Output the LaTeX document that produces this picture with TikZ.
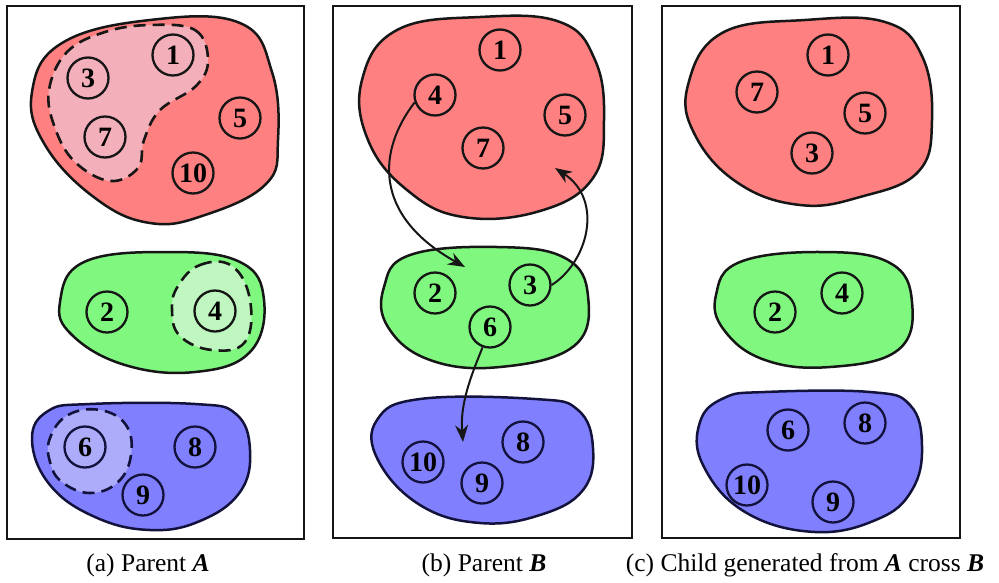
\documentclass[tikz,border=0pt]{standalone}
\usepackage{fontspec}
\setmainfont{Liberation Serif}
\usetikzlibrary{arrows.meta}

\definecolor{redfill}{RGB}{255,128,128}
\definecolor{redlight}{RGB}{244,176,186}
\definecolor{greenfill}{RGB}{128,248,128}
\definecolor{greenlight}{RGB}{192,246,192}
\definecolor{bluefill}{RGB}{128,128,255}
\definecolor{bluelight}{RGB}{172,172,250}
\definecolor{ink}{RGB}{22,22,22}
\definecolor{navy}{RGB}{18,18,60}

\tikzset{
  frame/.style={draw=ink, line width=2.5pt},
  blob/.style={draw=ink, line width=2.5pt},
  zone/.style={draw=ink, line width=2.6pt, dash pattern=on 12pt off 7pt},
  elem/.style={circle, draw=ink, line width=2.3pt, minimum size=41pt,
               inner sep=0pt, font=\fontsize{28}{30}\selectfont\bfseries},
  belem/.style={elem, draw=navy},
  arr/.style={draw=ink, line width=2pt, -{Stealth[length=17pt,width=13pt]}},
  caption/.style={anchor=base, font=\fontsize{25.5}{28}\selectfont, inner sep=0pt}
}

\begin{document}
\begin{tikzpicture}[x=1pt,y=-1pt]
\useasboundingbox (0,0) rectangle (999,582);
\fill[white] (0,0) rectangle (999,582);

% ---------- panel frames ----------
\draw[frame] (7,6) rectangle (304,539);
\draw[frame] (333,6) rectangle (632,538);
\draw[frame] (662,6) rectangle (960,538);

% ================= (a) Parent A =================
\draw[blob, fill=redfill] plot[smooth cycle, tension=0.7] coordinates {
  (150,20) (240,23) (272,72) (278,140) (266,184) (205,215) (150,223)
  (95,198) (45,145) (32,92) (62,43)};
\draw[zone, fill=redlight] plot[smooth cycle, tension=0.65] coordinates {
  (150,25) (195,30) (208,60) (196,86) (160,110) (144,140) (138,168)
  (110,181) (75,162) (55,128) (49,90) (67,52) (105,32)};
\node[elem] (a1) at (173,55) {1};
\node[elem] (a3) at (88,78) {3};
\node[elem] (a7) at (105,137) {7};
\node[elem] (a5) at (240,118) {5};
\node[elem] (a10) at (193,173) {10};

\draw[blob, fill=greenfill] plot[smooth cycle, tension=0.7] coordinates {
  (167,252) (240,262) (264,300) (250,352) (195,372) (125,365)
  (72,335) (60,302) (84,262)};
\draw[zone, fill=greenlight] plot[smooth cycle, tension=0.7] coordinates {
  (178,286) (200,265) (232,266) (250,300) (245,342) (212,350)
  (180,336) (172,310)};
\node[elem] (a2) at (107,312) {2};
\node[elem] (a4) at (215,311) {4};

\draw[blob, draw=navy, fill=bluefill] plot[smooth cycle, tension=0.7] coordinates {
  (90,404) (195,404) (236,414) (250,450) (240,492) (200,521) (150,530)
  (95,517) (50,485) (32,440) (48,411)};
\draw[zone, draw=navy, fill=bluelight] plot[smooth cycle, tension=0.7] coordinates {
  (50,438) (68,415) (100,410) (126,425) (131,455) (118,482) (90,493)
  (62,482) (50,462)};
\node[belem] (a6) at (85,447) {6};
\node[belem] (a8) at (195,447) {8};
\node[belem] (a9) at (143,495) {9};

% ================= (b) Parent B =================
\draw[blob, fill=redfill] plot[smooth cycle, tension=0.7] coordinates {
  (480,17) (560,22) (595,60) (604,120) (593,178) (540,211) (463,217)
  (407,190) (368,140) (362,80) (397,30)};
\node[elem] (b1) at (500,50) {1};
\node[elem] (b4) at (435,95) {4};
\node[elem] (b5) at (565,115) {5};
\node[elem] (b7) at (483,148) {7};

\draw[blob, fill=greenfill] plot[smooth cycle, tension=0.7] coordinates {
  (497,247) (565,258) (588,296) (574,346) (500,367) (430,360)
  (388,327) (384,287) (410,255)};
\node[elem] (b2) at (435,293) {2};
\node[elem] (b3) at (530,285) {3};
\node[elem] (b6) at (490,327) {6};

\draw[blob, draw=navy, fill=bluefill] plot[smooth cycle, tension=0.7] coordinates {
  (420,399) (535,399) (578,410) (593,448) (583,490) (540,515) (480,523)
  (420,505) (378,460) (377,420)};
\node[belem] (b10) at (423,462) {10};
\node[belem] (b9) at (482,483) {9};
\node[belem] (b8) at (523,442) {8};

% moves between groups
\coordinate (t1) at (465,267);
\coordinate (t2) at (555,168);
\coordinate (t3) at (463,442);
\draw[arr] (b4.200) .. controls (378,150) and (372,215) .. (t1);
\draw[arr] (b3.east) .. controls (588,262) and (604,200) .. (t2);
\draw[arr] (b6.250) .. controls (470,378) and (460,405) .. (t3);

% ================= (c) Child =================
\draw[blob, fill=redfill] plot[smooth cycle, tension=0.7] coordinates {
  (805,20) (885,22) (922,56) (932,120) (918,172) (860,197) (800,205)
  (738,183) (695,135) (688,85) (722,33)};
\node[elem] (c1) at (828,55) {1};
\node[elem] (c7) at (757,92) {7};
\node[elem] (c5) at (865,113) {5};
\node[elem] (c3) at (812,153) {3};

\draw[blob, fill=greenfill] plot[smooth cycle, tension=0.7] coordinates {
  (822,252) (890,263) (912,302) (898,350) (830,367) (765,360)
  (724,330) (716,295) (740,262)};
\node[elem] (c2) at (775,312) {2};
\node[elem] (c4) at (842,293) {4};

\draw[blob, draw=navy, fill=bluefill] plot[smooth cycle, tension=0.7] coordinates {
  (765,392) (870,392) (910,405) (922,446) (912,490) (878,519) (815,532)
  (745,512) (703,465) (700,422) (724,398)};
\node[belem] (c6) at (788,430) {6};
\node[belem] (c8) at (865,423) {8};
\node[belem] (c10) at (747,485) {10};
\node[belem] (c9) at (833,502) {9};

% ---------- captions ----------
\node[caption] (capa) at (148,571) {(a) Parent \textbf{\textit{A}}};
\node[caption] (capb) at (484,571) {(b) Parent \textbf{\textit{B}}};
\node[caption] (capc) at (805,571) {(c) Child generated from \textbf{\textit{A}} cross \textbf{\textit{B}}};
\end{tikzpicture}
\end{document}
